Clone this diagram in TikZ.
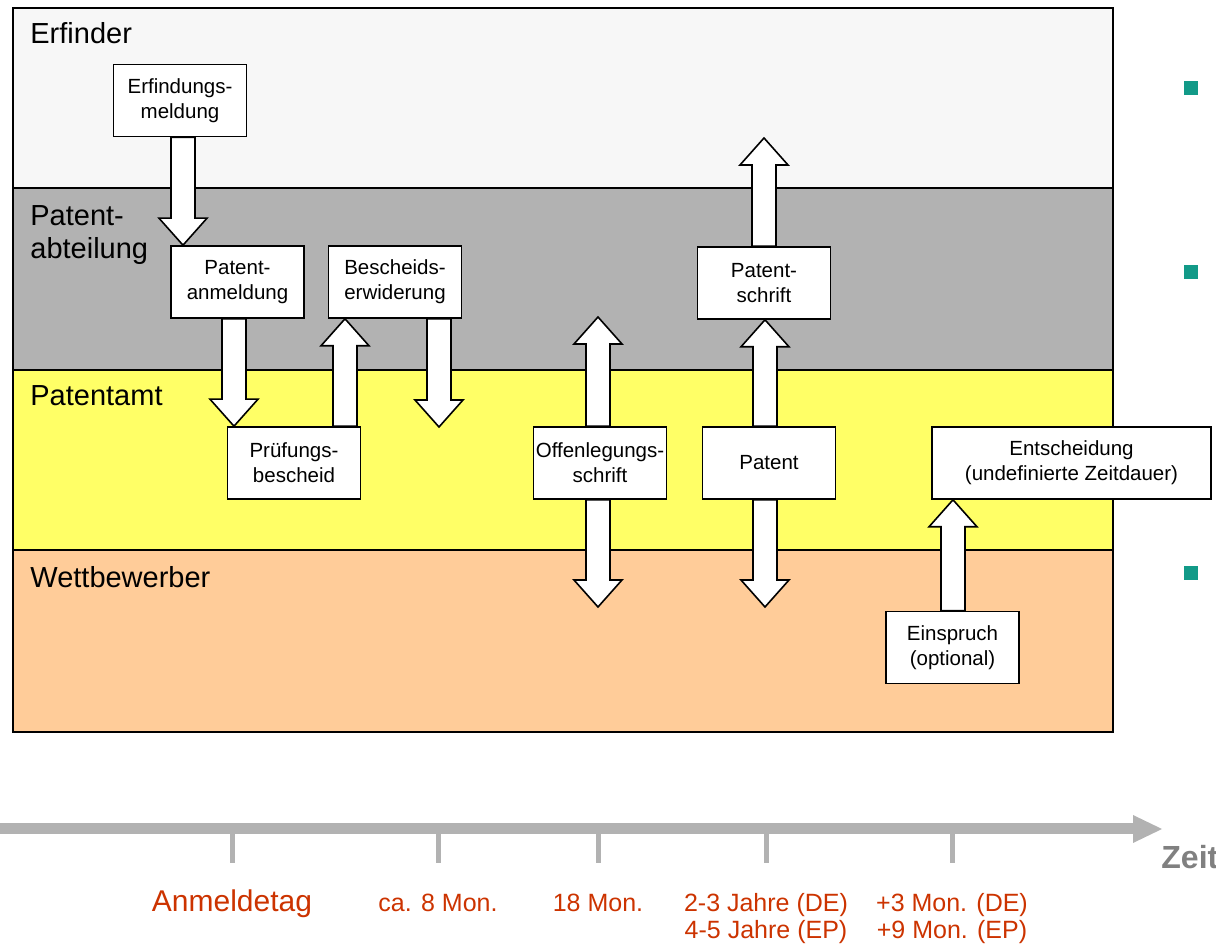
\documentclass[tikz,border=0pt]{standalone}
\usepackage{fontspec}
\setmainfont{Liberation Sans}
\usetikzlibrary{calc,arrows.meta}

\newcommand{\blockarrow}[3]{%
  \draw[arrowbody] let \p1=(#1,0 |- #2), \p2=(#1,0 |- #3), \n1={sign(\y2-\y1)} in
    ({\x1-6pt},\y1) -- ({\x1-6pt},{\y2-\n1*13.5pt}) -- ({\x1-12pt},{\y2-\n1*13.5pt})
    -- (\x1,\y2) -- ({\x1+12pt},{\y2-\n1*13.5pt}) -- ({\x1+6pt},{\y2-\n1*13.5pt})
    -- ({\x1+6pt},\y1) -- cycle;}

\begin{document}
\begin{tikzpicture}[x=0.5pt,y=-0.5pt,
  lane/.style={draw=black,line width=1pt},
  lanelabel/.style={anchor=base west,inner sep=0pt,align=left,font=\fontsize{14.5}{16.5}\selectfont},
  docbox/.style={draw=black,fill=white,line width=0.8pt,minimum width=66.5pt,minimum height=36pt,inner xsep=0pt,align=center,font=\fontsize{10.25}{12.5}\selectfont},
  arrowbody/.style={draw=black,fill=white,line width=0.8pt,line join=miter},
  timeline/.style={draw=axisgray,line width=5.5pt,-{Triangle[length=14.5pt,width=14pt,line width=0pt]}},
  tick/.style={draw=axisgray,line width=2.5pt},
  timelabel/.style={anchor=base,inner sep=0pt,align=center,text=datered,font=\fontsize{12.5}{13.5}\selectfont},
  bulletsq/.style={fill=bulletteal,minimum size=7pt,inner sep=0pt}]
\definecolor{lerf}{HTML}{F7F7F7}
\definecolor{lpat}{HTML}{B2B2B2}
\definecolor{lamt}{HTML}{FFFF66}
\definecolor{lwet}{HTML}{FFCC99}
\definecolor{axisgray}{HTML}{B2B2B2}
\definecolor{zeitgray}{HTML}{808080}
\definecolor{datered}{HTML}{CC3300}
\definecolor{bulletteal}{HTML}{129A88}
\useasboundingbox (0,0) rectangle (1216,945);

  \foreach \clr/\ya/\yb in {lerf/8/188,lpat/188/370,lamt/370/550,lwet/550/732}
  {  \filldraw[lane,fill=\clr] (13,\ya) rectangle (1113,\yb);}
  \foreach \nm/\ly/\txt in {erfinder/44/Erfinder,abteilung/259/{Patent-\\abteilung},patentamt/406/Patentamt,wettbewerber/588/Wettbewerber}
  {  \node[lanelabel] (\nm) at (30,\ly) {\txt};}

  \foreach \nm/\by in {bula/88,bulb/272,bulc/573}
  {  \node[bulletsq] (\nm) at (1191,\by) {};}

\coordinate (tstart) at (0,829);
\coordinate (tend) at (1162,829);
\draw[timeline] (tstart) -- (tend);
  \foreach \nm/\tx in {tanm/232,tpru/438,toff/598,tpat/766,tein/952}
  {  \draw[tick] (\tx,834) -- (\tx,863);}
\node[timelabel,font=\fontsize{15}{16}\selectfont] (lanm) at (232,912) {Anmeldetag};
  \foreach \nm/\tx/\ty/\txt in {lpru/438/912/{ca. 8 Mon.},loff/598/912/{18 Mon.},lpat/766/939/{2-3 Jahre (DE)\\4-5 Jahre (EP)},lein/952/939/{+3 Mon. (DE)\\+9 Mon. (EP)}}
  {  \node[timelabel] (\nm) at (\tx,\ty) {\txt};}
\node[anchor=base west,inner sep=0pt,text=zeitgray,font=\fontsize{16}{18}\selectfont\bfseries] (zeit) at (1161,869) {Zeit};

  \foreach \nm/\px/\py/\txt in {erf/180/100.5/{Erfindungs-\\meldung},anm/237.5/282/{Patent-\\anmeldung},bwd/395/282/{Bescheids-\\erwiderung},pbs/294/463/{Prüfungs-\\bescheid},ofs/600/463/{Offenlegungs-\\schrift},pat/769/463/Patent,pts/764/283/{Patent-\\schrift},ein/952.5/647.5/{Einspruch\\(optional)}}
  {  \node[docbox] (\nm) at (\px,\py) {\txt};}
\node[docbox,minimum width=139.5pt] (ent) at (1071.5,463) {Entscheidung\\(undefinierte Zeitdauer)};

\coordinate (bwdend) at (439,427);
\coordinate (ofsup) at (598,317);
\coordinate (ofsdown) at (598,607);
\coordinate (ptsup) at (764,138);
\coordinate (patdown) at (765,607);
\blockarrow{183}{erf.south}{anm.north}
\blockarrow{234}{anm.south}{pbs.north}
\blockarrow{345}{pbs.north}{bwd.south}
\blockarrow{439}{bwd.south}{bwdend}
\blockarrow{598}{ofs.north}{ofsup}
\blockarrow{598}{ofs.south}{ofsdown}
\blockarrow{765}{pat.north}{pts.south}
\blockarrow{764}{pts.north}{ptsup}
\blockarrow{765}{pat.south}{patdown}
\blockarrow{953}{ein.north}{ent.south}
\end{tikzpicture}
\end{document}
